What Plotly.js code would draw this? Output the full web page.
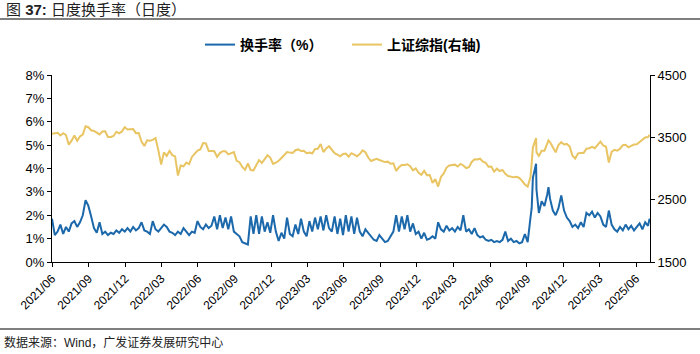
<!DOCTYPE html>
<html>
<head>
<meta charset="utf-8">
<script src="https://cdn.plot.ly/plotly-3.0.1.min.js"></script>
<style>
  html, body { margin: 0; padding: 0; background: #fff; }
  #chart { width: 700px; height: 354px; }
</style>
</head>
<body>
<div id="chart"></div>
<script>
// Dates (as positioned on the chart's time axis), roughly weekly
const dates2021 = ['2021-06-01','2021-06-08','2021-06-15','2021-06-22','2021-06-29','2021-07-06','2021-07-13','2021-07-20','2021-07-27','2021-08-03','2021-08-10','2021-08-17','2021-08-24','2021-08-31','2021-09-07','2021-09-14','2021-09-21','2021-09-28','2021-10-05','2021-10-12','2021-10-19','2021-10-26','2021-11-02','2021-11-09','2021-11-16','2021-11-23','2021-11-30','2021-12-07','2021-12-14','2021-12-21','2021-12-28'];
const dates2022 = ['2022-01-04','2022-01-11','2022-01-18','2022-01-25','2022-02-01','2022-02-08','2022-02-15','2022-02-22','2022-03-01','2022-03-08','2022-03-15','2022-03-22','2022-03-29','2022-04-05','2022-04-12','2022-04-19','2022-04-26','2022-05-03','2022-05-10','2022-05-17','2022-05-24','2022-05-31','2022-06-07','2022-06-14','2022-06-21','2022-06-28','2022-07-05','2022-07-12','2022-07-19','2022-07-26','2022-08-02','2022-08-09','2022-08-16','2022-08-23','2022-08-30','2022-09-06','2022-09-13','2022-09-20','2022-09-27','2022-10-04','2022-10-11','2022-10-18','2022-10-25','2022-11-01','2022-11-08','2022-11-15','2022-11-22','2022-11-29','2022-12-06','2022-12-13','2022-12-20','2022-12-27'];
const dates2023 = ['2023-01-03','2023-01-10','2023-01-17','2023-01-24','2023-01-31','2023-02-07','2023-02-14','2023-02-21','2023-02-28','2023-03-07','2023-03-14','2023-03-21','2023-03-28','2023-04-04','2023-04-11','2023-04-18','2023-04-25','2023-05-02','2023-05-09','2023-05-16','2023-05-23','2023-05-30','2023-06-06','2023-06-13','2023-06-20','2023-06-27','2023-07-04','2023-07-11','2023-07-18','2023-07-25','2023-08-01','2023-08-08','2023-08-15','2023-08-22','2023-08-29','2023-09-05','2023-09-12','2023-09-19','2023-09-26','2023-10-03','2023-10-10','2023-10-17','2023-10-24','2023-10-31','2023-11-07','2023-11-14','2023-11-21','2023-11-28','2023-12-05','2023-12-12','2023-12-19','2023-12-26'];
const dates2024 = ['2024-01-02','2024-01-09','2024-01-16','2024-01-23','2024-01-30','2024-02-06','2024-02-13','2024-02-20','2024-02-27','2024-03-05','2024-03-12','2024-03-19','2024-03-26','2024-04-02','2024-04-09','2024-04-16','2024-04-23','2024-04-30','2024-05-07','2024-05-14','2024-05-21','2024-05-28','2024-06-04','2024-06-11','2024-06-18','2024-06-25','2024-07-02','2024-07-09','2024-07-16','2024-07-23','2024-07-30','2024-08-06','2024-08-13','2024-08-20','2024-08-27','2024-09-03','2024-09-10','2024-09-13','2024-09-16','2024-09-24','2024-09-25','2024-10-01','2024-10-08','2024-10-15','2024-10-22','2024-10-25','2024-10-29','2024-11-05','2024-11-12','2024-11-19','2024-11-26','2024-12-03','2024-12-10','2024-12-17','2024-12-24','2024-12-31'];
const dates2025 = ['2025-01-07','2025-01-14','2025-01-21','2025-01-28','2025-02-04','2025-02-11','2025-02-18','2025-02-25','2025-03-04','2025-03-11','2025-03-18','2025-03-25','2025-04-01','2025-04-08','2025-04-15','2025-04-22','2025-04-29','2025-05-06','2025-05-13','2025-05-20','2025-05-27','2025-06-03','2025-06-10','2025-06-17','2025-06-24','2025-07-01','2025-07-05'];

// 换手率 (%)
const turnover2021 = [1.85,1.15,1.3,1.6,1.2,1.5,1.3,1.65,1.75,1.5,1.7,2.0,2.65,2.4,1.95,1.45,1.25,1.7,1.2,1.3,1.15,1.25,1.2,1.35,1.25,1.4,1.3,1.45,1.3,1.5,1.35];
const turnover2022 = [1.45,1.7,1.35,1.3,1.2,1.75,1.4,1.3,1.45,1.6,1.5,1.3,1.25,1.15,1.3,1.2,1.45,1.3,1.15,1.3,1.25,1.75,1.5,1.4,1.6,1.45,1.55,1.95,1.4,2.0,1.45,1.9,1.4,1.95,1.3,1.2,1.1,0.85,0.8,0.75,1.95,1.2,2.0,1.2,1.95,1.3,1.7,1.25,2.0,1.3,0.9,1.25];
const turnover2023 = [1.0,1.9,1.2,1.1,1.6,1.2,1.85,1.3,1.1,1.75,1.3,1.9,1.4,1.95,1.35,2.0,1.45,1.3,1.95,1.2,1.85,1.15,2.0,1.3,1.95,1.2,1.9,1.3,1.1,1.4,1.25,1.1,0.95,0.9,1.15,1.0,0.85,0.9,1.1,1.3,2.0,1.3,1.95,1.4,2.0,1.3,1.65,1.2,1.3,1.0,1.25,0.95];
const turnover2024 = [1.0,1.1,1.0,1.7,1.4,1.3,1.55,1.35,1.45,1.3,1.5,1.35,2.0,1.3,1.4,1.2,1.45,1.15,1.05,1.1,0.95,0.9,0.95,0.85,0.9,0.85,0.95,1.3,0.9,1.0,0.85,0.9,0.8,0.85,1.2,0.85,1.9,2.3,3.6,4.2,3.1,2.1,2.6,2.4,2.9,3.2,2.7,2.2,2.0,2.3,2.85,2.2,1.9,1.75,1.5,1.6];
const turnover2025 = [1.45,1.7,1.5,2.1,2.0,2.15,1.9,2.1,1.95,1.6,1.5,2.2,1.6,1.4,1.3,1.5,1.35,1.6,1.4,1.55,1.35,1.5,1.65,1.4,1.7,1.55,1.85];

// 上证综指 (右轴)
const sse2021 = [3556,3566,3574,3530,3566,3537,3382,3447,3530,3446,3514,3544,3677,3662,3613,3602,3568,3547,3593,3598,3505,3507,3521,3589,3564,3595,3661,3625,3630,3632,3567];
const sse2022 = [3569,3433,3361,3453,3446,3458,3488,3293,3064,3259,3203,3283,3214,3195,2887,3047,3036,3094,3071,3186,3236,3288,3307,3409,3404,3281,3279,3277,3186,3247,3277,3276,3227,3246,3263,3122,3101,3024,2979,3080,2976,2970,3064,3135,3088,3149,3212,3176,3073,3096,3123,3169];
const sse2023 = [3224,3264,3255,3248,3293,3306,3280,3285,3246,3255,3240,3312,3315,3393,3264,3323,3357,3291,3246,3224,3195,3234,3240,3189,3245,3221,3197,3231,3291,3260,3176,3120,3135,3154,3137,3125,3103,3110,3076,3084,2962,3019,3057,3056,3068,3038,2972,3003,2932,2898,2962,2893];
const sse2024 = [2894,2770,2830,2710,2866,2922,3015,3048,3055,3062,3031,3074,3048,3007,3021,3105,3148,3145,3157,3109,3091,3028,3030,2950,2997,2959,2976,2915,2879,2867,2858,2866,2848,2802,2744,2710,2864,3087,3336,3489,3258,3202,3285,3286,3387,3452,3421,3347,3260,3378,3422,3386,3394,3352,3206,3160];
const sse2025 = [3243,3250,3250,3318,3325,3346,3325,3380,3430,3369,3348,3096,3267,3300,3286,3317,3374,3381,3340,3362,3385,3387,3420,3457,3497,3505,3540];

const dates = [].concat(dates2021, dates2022, dates2023, dates2024, dates2025);
const turnover = [].concat(turnover2021, turnover2022, turnover2023, turnover2024, turnover2025);
const sse = [].concat(sse2021, sse2022, sse2023, sse2024, sse2025);

const seriesNames = ['换手率（%）', '上证综指(右轴)'];
const leftTicks = [0,1,2,3,4,5,6,7,8];
const rightTicks = [1500,2500,3500,4500];
const xTickDates = ['2021-06-01','2021-09-01','2021-12-01','2022-03-01','2022-06-01','2022-09-01','2022-12-01','2023-03-01','2023-06-01','2023-09-01','2023-12-01','2024-03-01','2024-06-01','2024-09-01','2024-12-01','2025-03-01','2025-06-01'];
const xTickLabels = ['2021/06','2021/09','2021/12','2022/03','2022/06','2022/09','2022/12','2023/03','2023/06','2023/09','2023/12','2024/03','2024/06','2024/09','2024/12','2025/03','2025/06'];

const titleText = '图 <b>37:</b> 日度换手率（日度）';
const sourceText = '数据来源：Wind，广发证券发展研究中心';

const latin = 'Liberation Sans, Arial, sans-serif';
const cjk = 'Liberation Sans, Noto Sans CJK SC, sans-serif';

const traces = [
  {
    x: dates, y: turnover, name: seriesNames[0], type: 'scatter', mode: 'lines',
    line: {color: '#1b68ab', width: 2}, yaxis: 'y'
  },
  {
    x: dates, y: sse, name: seriesNames[1], type: 'scatter', mode: 'lines',
    line: {color: '#e8c462', width: 2}, yaxis: 'y2'
  }
];

const PW = 598, PH = 187;
const layout = {
  width: 700, height: 354,
  margin: {l: 52, r: 50, t: 75, b: 92, pad: 0},
  paper_bgcolor: '#ffffff', plot_bgcolor: '#ffffff',
  showlegend: true,
  legend: {
    orientation: 'h', x: (200 - 52) / PW, xanchor: 'left', y: 1 + 30 / PH, yanchor: 'middle',
    font: {family: cjk, size: 14, color: '#000', weight: 'bold'},
    itemwidth: 30, tracegroupgap: 0, bgcolor: 'rgba(0,0,0,0)',
    entrywidth: 102, entrywidthmode: 'pixels'
  },
  xaxis: {
    type: 'date', range: ['2021-06-01', '2025-07-06'],
    tickmode: 'array', tickvals: xTickDates, ticktext: xTickLabels,
    tickangle: -45, ticks: 'outside', ticklen: 4, tickwidth: 1, tickcolor: '#000',
    showline: true, linecolor: '#000', linewidth: 1, showgrid: false, zeroline: false,
    tickfont: {family: latin, size: 12, color: '#000'}
  },
  yaxis: {
    range: [0, 8], tickmode: 'array', tickvals: leftTicks,
    ticktext: leftTicks.map(v => v + '%'),
    ticks: 'outside', ticklen: 4, tickcolor: '#000',
    showline: true, linecolor: '#000', linewidth: 1, showgrid: false, zeroline: false,
    tickfont: {family: latin, size: 13, color: '#000'}
  },
  yaxis2: {
    range: [1500, 4500], overlaying: 'y', side: 'right', tickmode: 'array', tickvals: rightTicks,
    ticks: 'outside', ticklen: 4, tickcolor: '#000',
    showline: true, linecolor: '#000', linewidth: 1, showgrid: false, zeroline: false,
    tickfont: {family: latin, size: 13, color: '#000'}
  },
  shapes: [
    {type: 'line', xref: 'paper', yref: 'paper', x0: -52 / PW, x1: 1 + 50 / PW,
     y0: 1 + 56 / PH, y1: 1 + 56 / PH, line: {color: '#7f7f7f', width: 2}},
    {type: 'line', xref: 'paper', yref: 'paper', x0: -52 / PW, x1: 1 + 50 / PW,
     y0: -67 / PH, y1: -67 / PH, line: {color: '#7f7f7f', width: 2}}
  ],
  annotations: [
    {text: titleText, xref: 'paper', yref: 'paper', x: -48 / PW, y: 1 + 65 / PH,
     xanchor: 'left', yanchor: 'middle', showarrow: false,
     font: {family: cjk, size: 15, color: '#222'}},
    {text: sourceText, xref: 'paper', yref: 'paper', x: -50 / PW, y: -80 / PH,
     xanchor: 'left', yanchor: 'middle', showarrow: false,
     font: {family: cjk, size: 12, color: '#222'}}
  ]
};

Plotly.newPlot('chart', traces, layout, {staticPlot: true, displayModeBar: false});
</script>
</body>
</html>
